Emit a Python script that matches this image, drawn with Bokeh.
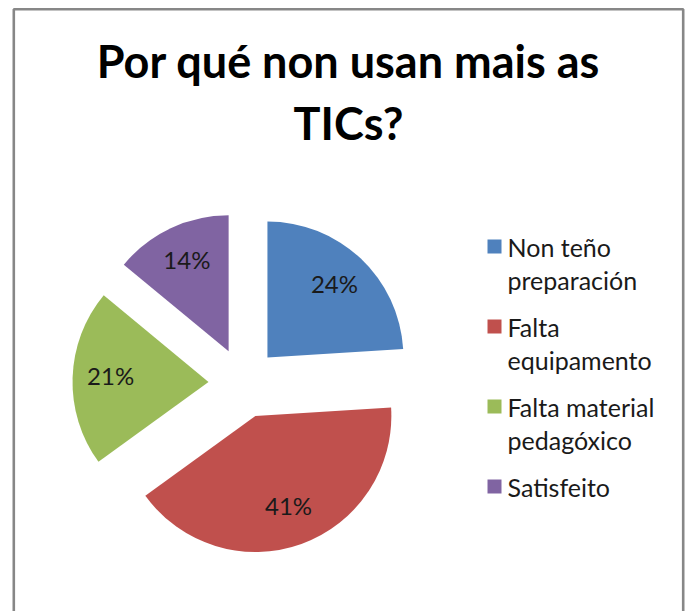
import math
from bokeh.plotting import figure
from bokeh.models import Range1d, Label, ColumnDataSource
from bokeh.core.properties import value
from bokeh.embed import file_html
from bokeh.resources import INLINE

# ---- data ----
title_text = "Por qué non usan mais as\nTICs?"
categories = ["Non teño\npreparación", "Falta\nequipamento", "Falta material\npedagóxico", "Satisfeito"]
percents = [24, 41, 21, 14]
colors = ["#4F81BD", "#C0504D", "#9BBB59", "#8064A2"]

# ---- layout (screen px; data y = -screen y) ----
W, H = 691, 611
cx, cy = 243.0, -382.5
R = 136.0
EXPLODE = 35.0
LABEL_FRAC = 0.72
FONT = "Lato"

p = figure(width=W, height=H, output_backend="svg", toolbar_location=None,
           x_range=Range1d(0, W), y_range=Range1d(-H, 0),
           x_axis_type=None, y_axis_type=None, min_border=0,
           outline_line_color=None, background_fill_color="white")
p.grid.visible = False

# chart border (left, top, right)
p.line(x=[13.3, 13.3, 682.7, 682.7], y=[-620, -8.8, -8.8, -620],
       line_color="#878787", line_width=2.6)

# pie wedges
total = float(sum(percents))
cum = 0.0
xs, ys, starts, ends, lx, ly, texts = [], [], [], [], [], [], []
for v in percents:
    a0 = math.radians(90 - 360 * cum / total)
    cum += v
    a1 = math.radians(90 - 360 * cum / total)
    mid = (a0 + a1) / 2
    ox = cx + EXPLODE * math.cos(mid)
    oy = cy + EXPLODE * math.sin(mid)
    xs.append(ox); ys.append(oy); starts.append(a0); ends.append(a1)
    lx.append(ox + LABEL_FRAC * R * math.cos(mid))
    ly.append(oy + LABEL_FRAC * R * math.sin(mid) + 3)
    texts.append(f"{v}%")

src = ColumnDataSource(dict(x=xs, y=ys, start=starts, end=ends, color=colors))
p.wedge(x="x", y="y", radius=R, start_angle="start", end_angle="end",
        direction="clock", fill_color="color", line_color=None, source=src)

p.text(x=lx, y=ly, text=texts, text_align="center", text_baseline="middle",
       text_font=value(FONT), text_font_size="24px", text_color="#1a1a1a")

# title
p.add_layout(Label(x=348, y=-33.5, text=title_text, text_align="center", text_baseline="top",
                   text_font=FONT, text_font_size="45px", text_font_style="bold",
                   text_color="black", text_line_height=1.14))

# legend (drawn manually so the swatch sits beside the first line of each label)
LEG_X, LEG_Y0, LEG_PITCH = 487.0, -252.0, 80.0
LEG_FS = 25
sw_x, sw_y, tx, ty = [], [], [], []
for i, c in enumerate(categories):
    base = LEG_Y0 - i * LEG_PITCH
    sw_x.append(LEG_X + 7); sw_y.append(base + 6)
    tx.append(LEG_X + 20); ty.append(base + 0.83 * LEG_FS)
p.rect(x=sw_x, y=sw_y, width=14, height=14, fill_color=colors, line_color=None)
p.text(x=tx, y=ty, text=categories, text_align="left", text_baseline="top",
       text_font=value(FONT), text_font_size=f"{LEG_FS}px", text_color="#1a1a1a",
       text_line_height=1.12)

open("out.html", "w").write(file_html(p, INLINE))
